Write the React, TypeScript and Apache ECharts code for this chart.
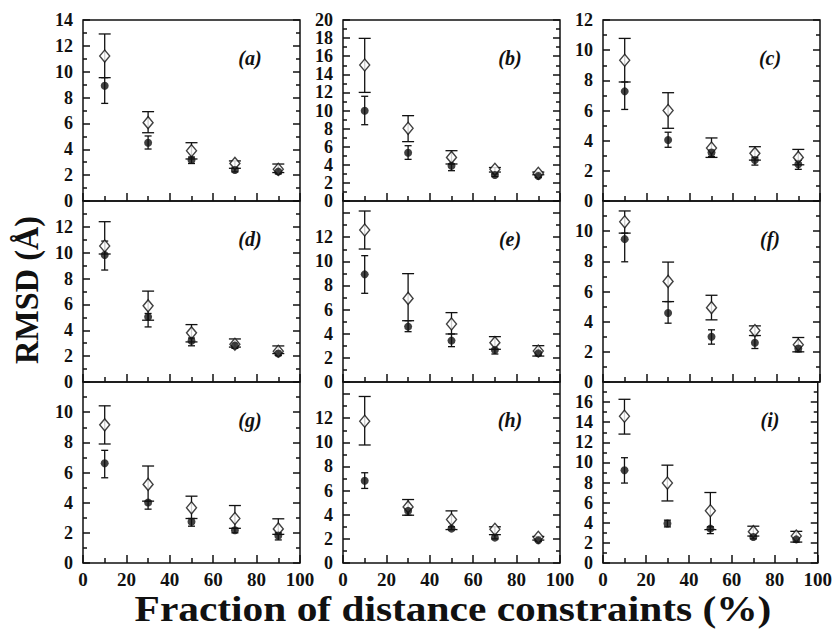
import React, { useEffect, useRef } from "react";
import * as echarts from "echarts";

// ---- data ----
const fractions = [10, 30, 50, 70, 90];
const panelNames = ["(a)", "(b)", "(c)", "(d)", "(e)", "(f)", "(g)", "(h)", "(i)"];
const yMaxes = [14, 20, 12, 14, 15, 12, 12, 15, 18];
const yLabelMaxes = [14, 20, 12, 12, 12, 10, 10, 12, 16];
const xTickLabels = ["0", "20", "40", "60", "80", "100"];

// filled circles
const circleMean = [
  [8.92, 4.51, 3.17, 2.4, 2.27],
  [9.98, 5.34, 3.9, 2.87, 2.76],
  [7.27, 4.04, 3.22, 2.71, 2.44],
  [9.82, 5.04, 3.18, 2.82, 2.2],
  [8.92, 4.59, 3.43, 2.65, 2.38],
  [9.47, 4.58, 3.0, 2.6, 2.22],
  [6.61, 4.01, 2.73, 2.17, 1.82],
  [6.81, 4.32, 2.85, 2.1, 1.88],
  [9.23, 3.93, 3.42, 2.58, 2.35],
];
const circleLow = [
  [7.55, 4.02, 2.9, 2.25, 2.1],
  [8.43, 4.6, 3.35, 2.7, 2.6],
  [6.07, 3.56, 2.95, 2.38, 2.1],
  [8.66, 4.26, 2.8, 2.6, 2.05],
  [7.35, 4.17, 2.93, 2.32, 2.2],
  [7.97, 3.9, 2.51, 2.22, 2.0],
  [5.65, 3.57, 2.44, 2.0, 1.53],
  [6.18, 3.96, 2.77, 2.0, 1.8],
  [7.95, 3.59, 2.92, 2.4, 2.08],
];
const circleHigh = [
  [9.54, 5.03, 3.4, 2.55, 2.45],
  [11.57, 6.11, 4.09, 3.0, 2.9],
  [7.89, 4.56, 3.4, 2.9, 2.7],
  [10.9, 5.3, 3.4, 3.0, 2.4],
  [10.47, 5.08, 3.98, 2.71, 2.5],
  [9.87, 5.33, 3.46, 3.08, 2.4],
  [7.47, 4.1, 2.95, 2.3, 2.0],
  [7.48, 4.5, 3.0, 2.35, 2.0],
  [10.47, 4.26, 3.6, 2.68, 2.5],
];
// open diamonds
const diamondMean = [
  [11.21, 6.06, 3.89, 2.91, 2.45],
  [15.03, 8.03, 4.82, 3.5, 3.06],
  [9.33, 6.0, 3.51, 3.16, 2.89],
  [10.52, 5.89, 3.8, 2.92, 2.38],
  [12.6, 6.93, 4.81, 3.26, 2.57],
  [10.62, 6.67, 4.93, 3.41, 2.47],
  [9.16, 5.21, 3.66, 2.95, 2.26],
  [11.75, 4.65, 3.6, 2.8, 2.13],
  [14.6, 7.95, 5.2, 3.12, 2.68],
];
const diamondLow = [
  [9.54, 5.28, 3.25, 2.53, 2.2],
  [12.0, 6.56, 4.09, 3.2, 2.9],
  [7.89, 4.82, 2.89, 2.71, 2.4],
  [9.9, 4.78, 3.1, 2.7, 2.2],
  [11.02, 5.08, 3.98, 2.71, 2.15],
  [9.87, 5.33, 4.12, 3.08, 2.0],
  [7.89, 4.1, 2.95, 2.3, 1.9],
  [9.78, 3.96, 2.77, 2.35, 1.9],
  [12.82, 6.17, 3.32, 2.68, 2.08],
];
const diamondHigh = [
  [12.92, 6.91, 4.51, 3.1, 2.86],
  [17.97, 9.43, 5.56, 3.7, 3.2],
  [10.78, 7.18, 4.18, 3.6, 3.42],
  [12.4, 7.03, 4.44, 3.33, 2.79],
  [14.17, 8.98, 5.75, 3.76, 3.01],
  [11.34, 7.95, 5.75, 3.72, 2.95],
  [10.42, 6.43, 4.43, 3.81, 2.93],
  [13.8, 5.26, 4.32, 3.0, 2.2],
  [16.28, 9.73, 7.01, 3.66, 3.15],
];

const FONT = "Liberation Serif";
const INK = "#111";

const colLefts = [83, 343, 603];
const rowTops = [20, 201, 382];
const PW = 217;
const PH = 181;

function errorBarSeries(idx: number, low: number[], high: number[], cap: number) {
  return {
    type: "custom",
    xAxisIndex: idx,
    yAxisIndex: idx * 2,
    silent: true,
    z: 2,
    encode: { x: 0, y: [1, 2] },
    data: fractions.map((f, i) => [f, low[i], high[i]]),
    renderItem: (params: any, api: any) => {
      const x = api.value(0);
      const p1 = api.coord([x, api.value(1)]);
      const p2 = api.coord([x, api.value(2)]);
      const w = cap / 2;
      const style = { stroke: INK, lineWidth: 1.3 };
      return {
        type: "group",
        children: [
          { type: "line", shape: { x1: p1[0], y1: p1[1], x2: p2[0], y2: p2[1] }, style },
          { type: "line", shape: { x1: p1[0] - w, y1: p1[1], x2: p1[0] + w, y2: p1[1] }, style },
          { type: "line", shape: { x1: p2[0] - w, y1: p2[1], x2: p2[0] + w, y2: p2[1] }, style },
        ],
      };
    },
  };
}

export default function App() {
  const ref = useRef<HTMLDivElement>(null);
  useEffect(() => {
    if (!ref.current) return;
    const chart = echarts.init(ref.current, undefined, { renderer: "svg" });
    const grids: any[] = [];
    const xAxes: any[] = [];
    const yAxes: any[] = [];
    const series: any[] = [];
    const graphics: any[] = [];
    for (let p = 0; p < 9; p++) {
      const r = Math.floor(p / 3);
      const c = p % 3;
      grids.push({
        left: colLefts[c],
        top: rowTops[r],
        width: PW,
        height: PH,
        show: true,
        borderColor: INK,
        borderWidth: 1.5,
        backgroundColor: "transparent",
      });
      xAxes.push({
        type: "value",
        gridIndex: p,
        min: 0,
        max: 100,
        interval: 20,
        axisLine: { show: false },
        axisTick: { show: true, inside: true, length: 8, lineStyle: { color: INK, width: 1.5 } },
        minorTick: { show: true, splitNumber: 2, length: 5, lineStyle: { color: INK, width: 1.5 } },
        splitLine: { show: false },
        axisLabel: {
          show: r === 2,
          margin: 7,
          hideOverlap: false,
          showMinLabel: true,
          showMaxLabel: true,
          fontFamily: FONT,
          fontWeight: "bold",
          fontSize: 19,
          color: INK,
          formatter: (v: number) => xTickLabels[Math.round(v / 20)] ?? "",
        },
      });
      const labelMax = yLabelMaxes[p];
      yAxes.push({
        type: "value",
        gridIndex: p,
        position: "left",
        min: 0,
        max: yMaxes[p],
        interval: 2,
        axisLine: { show: false },
        axisTick: { show: true, inside: true, length: 7, lineStyle: { color: INK, width: 1.5 } },
        minorTick: { show: true, splitNumber: 2, length: 4, lineStyle: { color: INK, width: 1.5 } },
        splitLine: { show: false },
        axisLabel: {
          margin: 10,
          hideOverlap: false,
          showMinLabel: true,
          showMaxLabel: true,
          fontFamily: FONT,
          fontWeight: "bold",
          fontSize: 18,
          lineHeight: 16,
          color: INK,
          formatter: (v: number) => (v <= labelMax && Math.abs(v % 2) < 1e-6 ? String(v) : ""),
        },
      });
      yAxes.push({
        type: "value",
        gridIndex: p,
        position: "right",
        min: 0,
        max: yMaxes[p],
        interval: 2,
        axisLine: { show: false },
        axisTick: { show: true, inside: true, length: 7, lineStyle: { color: INK, width: 1.5 } },
        minorTick: { show: true, splitNumber: 2, length: 4, lineStyle: { color: INK, width: 1.5 } },
        splitLine: { show: false },
        axisLabel: { show: false },
      });
      series.push(errorBarSeries(p, diamondLow[p], diamondHigh[p], 12));
      series.push(errorBarSeries(p, circleLow[p], circleHigh[p], 7));
      series.push({
        type: "scatter",
        xAxisIndex: p,
        yAxisIndex: p * 2,
        symbol: "diamond",
        symbolSize: [10, 12],
        z: 3,
        itemStyle: { color: "#fff", borderColor: INK, borderWidth: 1.4 },
        data: fractions.map((f, i) => [f, diamondMean[p][i]]),
      });
      series.push({
        type: "scatter",
        xAxisIndex: p,
        yAxisIndex: p * 2,
        symbol: "circle",
        symbolSize: 8,
        z: 4,
        itemStyle: { color: INK },
        data: fractions.map((f, i) => [f, circleMean[p][i]]),
      });
      graphics.push({
        type: "text",
        x: colLefts[c] + 167,
        y: rowTops[r] + 38,
        style: {
          text: panelNames[p],
          fontFamily: FONT,
          fontStyle: "italic",
          fontWeight: "bold",
          fontSize: 20,
          fill: INK,
          align: "center",
          verticalAlign: "middle",
        },
      });
    }
    graphics.push({
      type: "text",
      x: 26,
      y: 290,
      rotation: Math.PI / 2,
      scaleX: 0.95,
      style: {
        text: "RMSD (Å)",
        fontFamily: FONT,
        fontWeight: "bold",
        fontSize: 34,
        fill: INK,
        align: "center",
        verticalAlign: "middle",
      },
    });
    graphics.push({
      type: "text",
      x: 453,
      y: 608,
      scaleX: 1.15,
      style: {
        text: "Fraction of distance constraints (%)",
        fontFamily: FONT,
        fontWeight: "bold",
        fontSize: 36,
        fill: INK,
        align: "center",
        verticalAlign: "middle",
      },
    });
    chart.setOption({
      animation: false,
      backgroundColor: "#fff",
      textStyle: { fontFamily: FONT },
      grid: grids,
      xAxis: xAxes,
      yAxis: yAxes,
      series,
      graphic: graphics,
    });
    return () => chart.dispose();
  }, []);
  return (
    <div
      ref={ref}
      style={{ position: "fixed", left: 0, top: 0, width: 835, height: 633 }}
    />
  );
}
